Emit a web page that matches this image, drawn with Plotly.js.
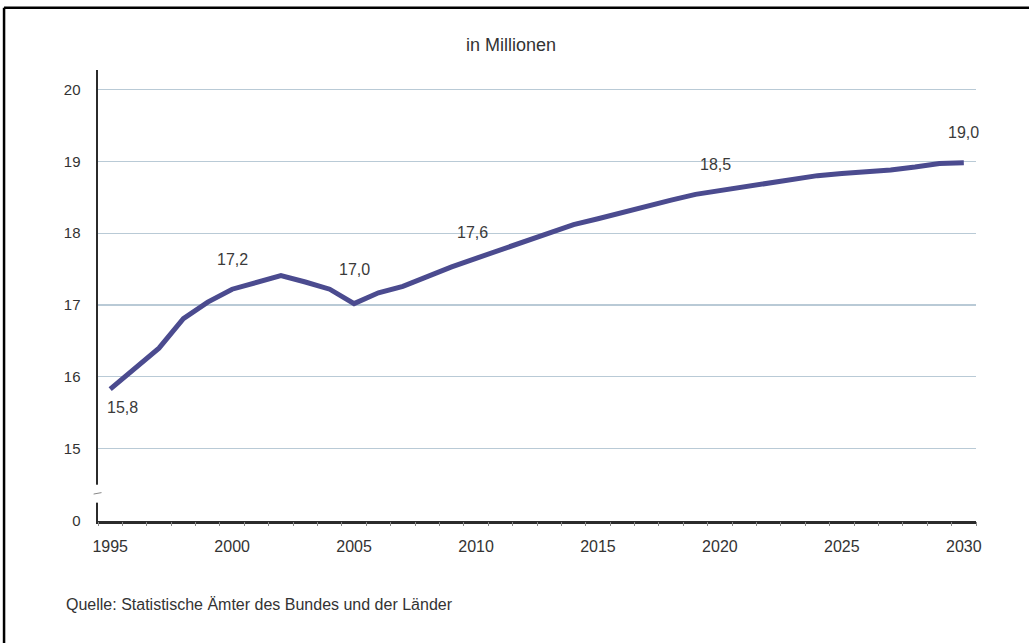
<!DOCTYPE html>
<html>
<head>
<meta charset="utf-8">
<script src="https://cdn.plot.ly/plotly-3.0.1.min.js"></script>
<style>html,body{margin:0;padding:0;background:#fff;}#chart{width:1029px;height:643px;}</style>
</head>
<body>
<div id="chart"></div>
<script>
// Years (category axis) and values in millions
const years = [1995,1996,1997,1998,1999,2000,2001,2002,2003,2004,2005,2006,2007,2008,2009,2010,2011,2012,2013,2014,2015,2016,2017,2018,2019,2020,2021,2022,2023,2024,2025,2026,2027,2028,2029,2030];
const values = [15.83,16.11,16.40,16.81,17.04,17.22,17.32,17.41,17.32,17.22,17.02,17.17,17.26,17.40,17.53,17.65,17.77,17.88,18.00,18.12,18.20,18.29,18.37,18.46,18.54,18.59,18.64,18.69,18.74,18.80,18.83,18.85,18.88,18.92,18.97,18.98];
// Labelled points
const labelYears = [1995,2000,2005,2010,2020,2030];
const labelTexts = ["15,8","17,2","17,0","17,6","18,5","19,0"];
// Y axis: the "0" tick sits at the broken-axis position one step below 15
const yTickVals = [14,15,16,17,18,19,20];
const yTickText = ["0","15","16","17","18","19","20"];
const xTickYears = [1995,2000,2005,2010,2015,2020,2025,2030];

const FONT = 'Liberation Sans, Arial, sans-serif';
const labelOffsets = {1995:[12,-18],2000:[0,30],2005:[0,34],2010:[-4,26],2020:[-4,26],2030:[0,30]};

const annotations = labelYears.map((yr,i)=>{
  const v = values[years.indexOf(yr)];
  const off = labelOffsets[yr];
  return {x: yr, y: v, xref:'x', yref:'y', text: labelTexts[i], showarrow:false,
    xshift: off[0], yshift: off[1], font:{family:FONT, size:16, color:'#3a3a3a'}};
});

annotations.push({xref:'paper', yref:'paper', x:0.47, y:1.055, xanchor:'center', yanchor:'middle', showarrow:false,
  text:'in Millionen', font:{family:FONT, size:18, color:'#333'}});
annotations.push({xref:'paper', yref:'paper', x:-0.039, y:-0.185, xanchor:'left', yanchor:'middle', showarrow:false,
  text:'Quelle: Statistische Ämter des Bundes und der Länder', font:{family:FONT, size:16, color:'#333'}});

const trace = {x: years, y: values, type:'scatter', mode:'lines',
  line:{color:'#4b4b8f', width:5}, hoverinfo:'skip'};
const tickTrace = {x: years, y: values, type:'scatter', mode:'none', xaxis:'x2', hoverinfo:'skip', showlegend:false};

const layout = {
  width:1029, height:643,
  paper_bgcolor:'#ffffff', plot_bgcolor:'#ffffff',
  margin:{l:98, r:53, t:70, b:122},
  showlegend:false,
  font:{family:FONT, size:15, color:'#333'},
  xaxis:{range:[1994.5,2030.5], tickvals:xTickYears, ticktext:xTickYears.map(String), ticks:'', showgrid:false,
    zeroline:false, showline:true, linecolor:'#2b2b2b', linewidth:2.5,
    tickfont:{size:16, color:'#333'}, ticklabelstandoff:9},
  xaxis2:{overlaying:'x', matches:'x', side:'bottom', range:[1994.5,2030.5], tickmode:'linear', tick0:1994.5, dtick:1,
    ticks:'outside', ticklen:4, tickcolor:'#888', tickwidth:1, showticklabels:false, showgrid:false, zeroline:false, showline:false},
  yaxis:{range:[13.995,20.27], tickvals:yTickVals, ticktext:yTickText, showgrid:true, gridcolor:'#b9cad6', gridwidth:1.2,
    zeroline:false, showline:true, linecolor:'#2b2b2b', linewidth:2.5, ticks:'', tickfont:{size:15, color:'#333'}, ticklabelstandoff:12},
  annotations: annotations,
  shapes:[
    // axis break on the y axis
    {type:'rect', xref:'paper', yref:'y', x0:-0.006, x1:0.006, y0:14.25, y1:14.5, fillcolor:'#ffffff', line:{width:0}},
    {type:'line', xref:'paper', yref:'y', x0:-0.005, x1:0.004, y0:14.37, y1:14.39, line:{color:'#888', width:1}},
    // frame
    {type:'line', xref:'paper', yref:'paper', x0:-0.107, x1:1.07, y0:1.138, y1:1.138, line:{color:'#000', width:2.5}},
    {type:'line', xref:'paper', yref:'paper', x0:-0.107, x1:-0.107, y0:1.138, y1:-0.28, line:{color:'#000', width:2.5}}
  ]
};

Plotly.newPlot('chart', [trace, tickTrace], layout, {staticPlot:true, displayModeBar:false});
</script>
</body>
</html>
